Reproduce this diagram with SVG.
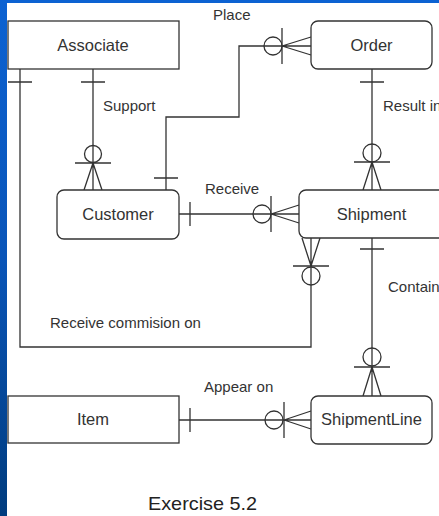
<svg xmlns="http://www.w3.org/2000/svg" width="439" height="516" viewBox="0 0 439 516">
<defs>
<linearGradient id="bg" x1="0" y1="0" x2="0" y2="1">
<stop offset="0" stop-color="#0c62d2"/>
<stop offset="0.5" stop-color="#0a55b8"/>
<stop offset="1" stop-color="#003c7e"/>
</linearGradient>
<style>
.ent{fill:#fff;stroke:#333;stroke-width:1.3}
.ln{fill:none;stroke:#333;stroke-width:1.3}
.nt{font-family:"Liberation Sans",Arial,sans-serif;font-size:16.5px;fill:#333;text-anchor:middle}
.lb{font-family:"Liberation Sans",Arial,sans-serif;font-size:15px;fill:#333}
</style>
</defs>
<rect x="0" y="0" width="439" height="516" fill="#fff"/>
<rect x="0" y="0" width="439" height="3" fill="#0c62d2"/>
<rect x="0" y="0" width="7" height="516" fill="url(#bg)"/>

<g id="connectors">
<!-- Support -->
<path class="ln" d="M93,69 V190 M81,82 H105 M75,163 H111 M93,163 L84,190 M93,163 L93,190 M93,163 L102,190"/>
<circle class="ln" cx="93" cy="154" r="8.5"/>
<!-- Place -->
<path class="ln" d="M166,190 V117 H239 V46 H311 M154,178 H178 M282,28 V64 M282,46 L311,37 M282,46 L311,55"/>
<circle class="ln" cx="273" cy="46" r="9"/>
<!-- Result in -->
<path class="ln" d="M372,69 V190 M360,82 H384 M354,162 H390 M372,162 L363,190 M372,162 L381,190"/>
<circle class="ln" cx="372" cy="153" r="9"/>
<!-- Receive -->
<path class="ln" d="M179,214 H299 M190,202 V226 M271,196 V232 M271,214 L299,205 M271,214 L299,223"/>
<circle class="ln" cx="262" cy="214" r="9"/>
<!-- Receive commision on -->
<path class="ln" d="M20,69 V347 H311 V238 M8,82 H32 M293,266 H329 M311,266 L302,238 M311,266 L320,238"/>
<circle class="ln" cx="311" cy="276" r="9"/>
<!-- Contain -->
<path class="ln" d="M372,238 V396 M360,249 H384 M354,367 H390 M372,367 L363,396 M372,367 L381,396"/>
<circle class="ln" cx="372" cy="357" r="9"/>
<!-- Appear on -->
<path class="ln" d="M179,420 H311 M190,408 V432 M284,402 V438 M284,420 L311,411 M284,420 L311,429"/>
<circle class="ln" cx="274" cy="420" r="9"/>
</g>

<g id="associate"><rect class="ent" x="8" y="21" width="171" height="48"/><text class="nt" x="93" y="51">Associate</text></g>
<g id="order"><rect class="ent" x="311" y="21" width="121" height="48" rx="7"/><text class="nt" x="371.5" y="51">Order</text></g>
<g id="customer"><rect class="ent" x="57" y="190" width="122" height="49" rx="7"/><text class="nt" x="118" y="220">Customer</text></g>
<g id="shipment"><rect class="ent" x="299" y="190" width="150" height="48" rx="7"/><text class="nt" x="371.5" y="220">Shipment</text></g>
<g id="item"><rect class="ent" x="8" y="396" width="171" height="47"/><text class="nt" x="93" y="425">Item</text></g>
<g id="shipmentline"><rect class="ent" x="311" y="396" width="121" height="48" rx="7"/><text class="nt" x="371.5" y="425">ShipmentLine</text></g>

<g id="labels">
<text class="lb" x="213" y="20">Place</text>
<text class="lb" x="103" y="111">Support</text>
<text class="lb" x="383" y="111">Result in</text>
<text class="lb" x="205" y="194">Receive</text>
<text class="lb" x="50" y="328">Receive commision on</text>
<text class="lb" x="388" y="292">Contain</text>
<text class="lb" x="204" y="392">Appear on</text>
<text x="148" y="510" font-family="Liberation Sans, Arial, sans-serif" font-size="19" fill="#222" textLength="109" lengthAdjust="spacingAndGlyphs">Exercise 5.2</text>
</g>
</svg>
